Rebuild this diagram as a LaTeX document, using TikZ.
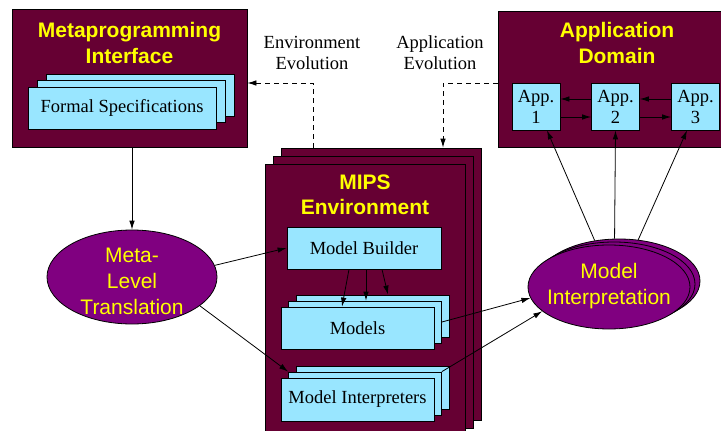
\documentclass[tikz,border=0pt]{standalone}
\usepackage{fontspec}
\setmainfont{Liberation Serif}
\setsansfont{Liberation Sans}
\usetikzlibrary{arrows.meta,shapes.geometric}
\definecolor{boxred}{HTML}{660033}
\definecolor{bubble}{HTML}{800080}
\definecolor{paneblue}{HTML}{99E6FF}
\definecolor{titleyellow}{HTML}{FFFF00}
\begin{document}
\begin{tikzpicture}[x=1pt, y=-1pt, line width=0.8pt,
    darkbox/.style={draw, fill=boxred, inner sep=0pt},
    pane/.style={draw, fill=paneblue, inner sep=0pt, align=center, font=\fontsize{18.5}{21}\selectfont},
    blob/.style={draw, fill=bubble, ellipse, inner sep=0pt, minimum width=162pt, minimum height=84pt},
    heading/.style={text=titleyellow, align=center, font=\fontsize{21}{25.5}\selectfont\sffamily\bfseries},
    blobtext/.style={text=titleyellow, align=center, font=\fontsize{21}{26}\selectfont\sffamily},
    evonote/.style={align=center, font=\fontsize{18.5}{21}\selectfont},
    evoline/.style={->, dash pattern=on 5pt off 4pt},
    >={Latex[length=9pt,width=5.5pt]}]
    \useasboundingbox (0,0) rectangle (721,431);
    \node[darkbox, minimum width=235pt, minimum height=138pt] (meta) at (129.5,78) {};
    \node[heading] (metatitle) at (129.5,43) {Metaprogramming\\Interface};
    \node[pane, minimum width=188pt, minimum height=42pt] (spec3) at (140,95) {};
    \node[pane, minimum width=188pt, minimum height=42pt] (spec2) at (131,101.5) {};
    \node[pane, minimum width=188pt, minimum height=42pt] (spec1) at (122,108) {Formal Specifications};
    \node[darkbox, minimum width=238pt, minimum height=136pt] (appdom) at (617,79) {};
    \node[heading] (apptitle) at (617,43) {Application\\Domain};
    \node[pane, minimum width=48pt, minimum height=47pt] (app1) at (536,106.5) {App.\\1};
    \node[pane, minimum width=48pt, minimum height=47pt] (app2) at (615.5,106.5) {App.\\2};
    \node[pane, minimum width=48pt, minimum height=47pt] (app3) at (695.5,106.5) {App.\\3};
    \node[darkbox, minimum width=200pt, minimum height=272pt] (mips3) at (381,284) {};
    \node[darkbox, minimum width=200pt, minimum height=272pt] (mips2) at (373,292) {};
    \node[darkbox, minimum width=200pt, minimum height=272pt] (mips1) at (365,300) {};
    \node[heading] (mipstitle) at (365,195) {MIPS\\Environment};
    \node[pane, minimum width=154pt, minimum height=42pt] (builder) at (364,248) {Model Builder};
    \node[pane, minimum width=153pt, minimum height=42pt] (models3) at (372.5,316) {};
    \node[pane, minimum width=153pt, minimum height=42pt] (models2) at (365,322) {};
    \node[pane, minimum width=153pt, minimum height=42pt] (models1) at (357.5,328) {Models};
    \node[pane, minimum width=153pt, minimum height=43pt] (interp3) at (372.5,387.5) {};
    \node[pane, minimum width=153pt, minimum height=43pt] (interp2) at (365,393.5) {};
    \node[pane, minimum width=153pt, minimum height=43pt] (interp1) at (357.5,399.5) {Model Interpreters};
    \node[blob, minimum width=170pt, minimum height=94pt] (metaell) at (132,277) {};
    \node[blobtext] (metatext) at (132,281) {Meta-\\Level\\Translation};
    \node[blob] (interpell3) at (619,281) {};
    \node[blob] (interpell2) at (614,284) {};
    \node[blob] (interpell1) at (609,287) {};
    \node[blobtext] (interptext) at (609,286) {Model\\Interpretation};
    \node[evonote] (envnote) at (312,53) {Environment\\Evolution};
    \node[evonote] (appnote) at (440,53) {Application\\Evolution};
    \coordinate (envturn) at (313,83);
    \coordinate (appturn) at (443,83);
    \draw[->] (metaell.north |- meta.south) -- (metaell.north);
    \draw[evoline] (envturn |- mips3.north) -- (envturn) -- (envturn -| meta.east);
    \draw[evoline] (appturn -| appdom.west) -- (appturn) -- (appturn |- mips3.north);
    \draw[->] ([yshift=7.5pt]app2.west) -- ([yshift=7.5pt]app1.east);
    \draw[->] ([yshift=-10.5pt]app1.east) -- ([yshift=-10.5pt]app2.west);
    \draw[->] ([yshift=7.5pt]app3.west) -- ([yshift=7.5pt]app2.east);
    \draw[->] ([yshift=-10.5pt]app2.east) -- ([yshift=-10.5pt]app3.west);
    \draw[->] (metaell.8) -- (builder.west);
    \draw[->] (metaell.-23) -- (interp2.north west);
    \draw[->] ([xshift=-15pt]builder.south) -- ([xshift=-15.5pt]models1.north);
    \draw[->] ([xshift=2pt]builder.south) -- ([xshift=1pt]models2.north);
    \draw[->] ([xshift=18pt]builder.south) -- ([xshift=15.5pt]models3.north);
    \draw[->] (models2.east) -- (interpell1.188);
    \draw[->] (interp2.north east) -- (interpell1.200);
    \draw[->] (interpell3.121) -- ([xshift=11pt]app1.south);
    \draw[->] (interpell3.96) -- (app2.south);
    \draw[->] (interpell3.65) -- ([xshift=-8.5pt]app3.south);
\end{tikzpicture}
\end{document}
